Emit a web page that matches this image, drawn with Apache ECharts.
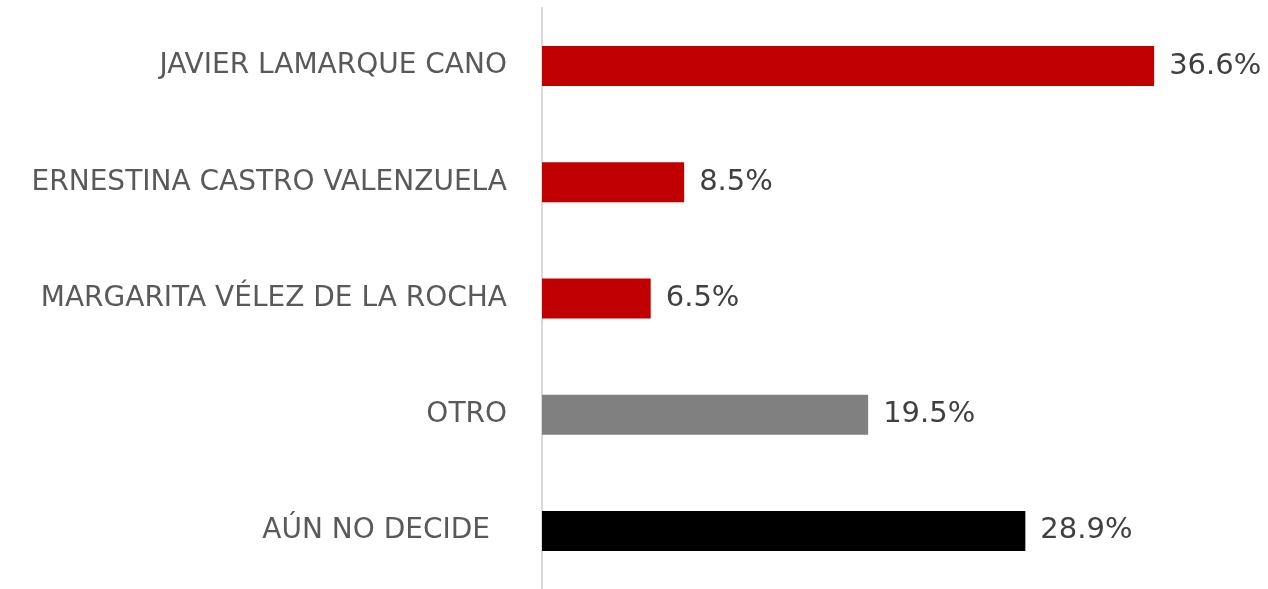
<!DOCTYPE html>
<html><head><meta charset="utf-8">
<script src="https://cdn.jsdelivr.net/npm/echarts@6/dist/echarts.min.js"></script>
<style>html,body{margin:0;padding:0;background:#fff}#c{width:1268px;height:589px}</style>
</head><body><div id="c"></div>
<script>
const categories = ["JAVIER LAMARQUE CANO", "ERNESTINA CASTRO VALENZUELA", "MARGARITA VÉLEZ DE LA ROCHA", "OTRO", "AÚN NO DECIDE"];
const values = [36.6, 8.5, 6.5, 19.5, 28.9];
const barColors = ["#C00000", "#C00000", "#C00000", "#808080", "#000000"];
const FONT = "DejaVu Sans";
const chart = echarts.init(document.getElementById('c'), null, {renderer: 'canvas'});
chart.setOption({
  animation: false,
  grid: {left: 542, right: 57, top: 8, bottom: 0, containLabel: false},
  xAxis: {type: 'value', min: 0, max: 40, show: false},
  yAxis: {
    type: 'category', data: categories, inverse: true,
    axisLine: {show: true, lineStyle: {color: '#d9d9d9', width: 2}},
    axisTick: {show: false},
    axisLabel: {
      margin: 35, color: '#595959', fontFamily: FONT, fontSize: 28,
      formatter: function (v) { return v === "AÚN NO DECIDE" ? '{p|' + v + '}' : v; },
      rich: {p: {color: '#595959', fontFamily: FONT, fontSize: 28, padding: [0, 17, 0, 0]}}
    }
  },
  series: [{
    type: 'bar', barWidth: 40,
    data: values.map((v, i) => ({value: v, itemStyle: {color: barColors[i]}})),
    label: {show: true, position: 'right', distance: 15, color: '#404040', fontFamily: FONT, fontSize: 29,
      formatter: p => p.value.toFixed(1) + '%'}
  }]
});
</script></body></html>
